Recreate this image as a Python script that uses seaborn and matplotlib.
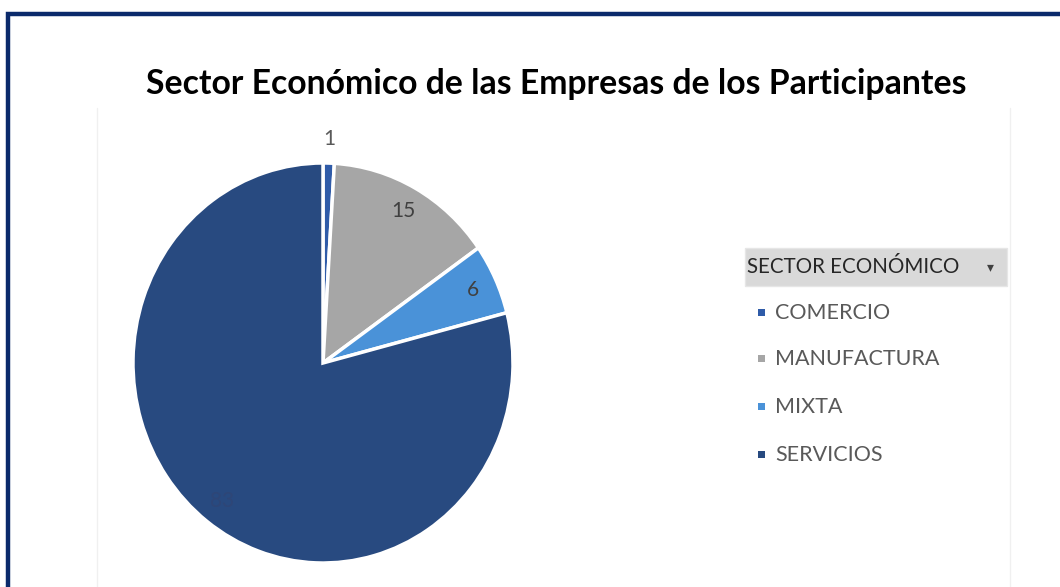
import matplotlib
matplotlib.use("Agg")
import matplotlib.pyplot as plt
from matplotlib.patches import Rectangle
import numpy as np
import seaborn as sns

# Data
sectors = ["COMERCIO", "MANUFACTURA", "MIXTA", "SERVICIOS"]
counts = [1, 15, 6, 83]
colors = ["#2F5BA8", "#A6A6A6", "#4A92D8", "#284A80"]
label_colors = ["#595959", "#404040", "#404040", "#2E4677"]
title = "Sector Económico de las Empresas de los Participantes"
legend_title = "SECTOR ECONÓMICO"

sns.set_theme(style="white")
plt.rcParams["font.family"] = ["Lato", "DejaVu Sans"]

W, H = 1060, 587
fig = plt.figure(figsize=(W / 100, H / 100), dpi=100)
fig.patch.set_facecolor("white")

# Outer frame (left and top edges visible)
frame_ax = fig.add_axes([0, 0, 1, 1])
frame_ax.set_xlim(0, W)
frame_ax.set_ylim(H, 0)
frame_ax.axis("off")
frame_ax.plot([8, 8, W + 5], [H + 5, 14, 14], color="#0B2A6B", lw=3.2,
              solid_joinstyle="miter", clip_on=False)
# faint plot-area guides
frame_ax.plot([97, 97], [108, H], color="#F0F0F0", lw=1)
frame_ax.plot([1010, 1010], [108, H], color="#F0F0F0", lw=1)

# Title
fig.text(556 / W, 1 - 84 / H, title, ha="center", va="center",
         fontsize=24.3, fontweight="bold", color="#000000")

# Pie
cx, cy, rx, ry = 323, 363, 190, 200
ax = fig.add_axes([(cx - rx) / W, 1 - (cy + ry) / H, 2 * rx / W, 2 * ry / H])
wedges, _ = ax.pie(counts, colors=colors, startangle=90, counterclock=False,
                   wedgeprops=dict(edgecolor="white", linewidth=2.5))
ax.set_aspect("auto")
ax.set_xlim(-1, 1)
ax.set_ylim(-1, 1)
ax.axis("off")

for w, val, tc in zip(wedges, counts, label_colors):
    mid = np.deg2rad((w.theta1 + w.theta2) / 2)
    frac = val / sum(counts)
    r = 1.12 if frac < 0.03 else 0.87
    ax.text(r * np.cos(mid), r * np.sin(mid), str(val), ha="center",
            va="center", fontsize=15, color=tc, clip_on=False)

# Legend header
lax = fig.add_axes([0, 0, 1, 1], facecolor="none")
lax.set_xlim(0, W)
lax.set_ylim(H, 0)
lax.axis("off")
lax.add_patch(Rectangle((745, 248), 262, 38, facecolor="#D9D9D9",
                        edgecolor="#E6E6E6", lw=1))
lax.text(747, 267, legend_title, ha="left", va="center", fontsize=14.8,
         color="#262626")
lax.text(990, 267, "▾", ha="center", va="center", fontsize=10,
         color="#404040", family="DejaVu Sans")

# Legend entries
ys = [313, 359, 407, 455]
for name, col, yy in zip(sectors, colors, ys):
    lax.add_patch(Rectangle((758, yy - 4), 7, 7, facecolor=col, edgecolor="none"))
    lax.text(775, yy, name, ha="left", va="center", fontsize=15.5,
             color="#595959")

fig.savefig("out.png", dpi=100)
